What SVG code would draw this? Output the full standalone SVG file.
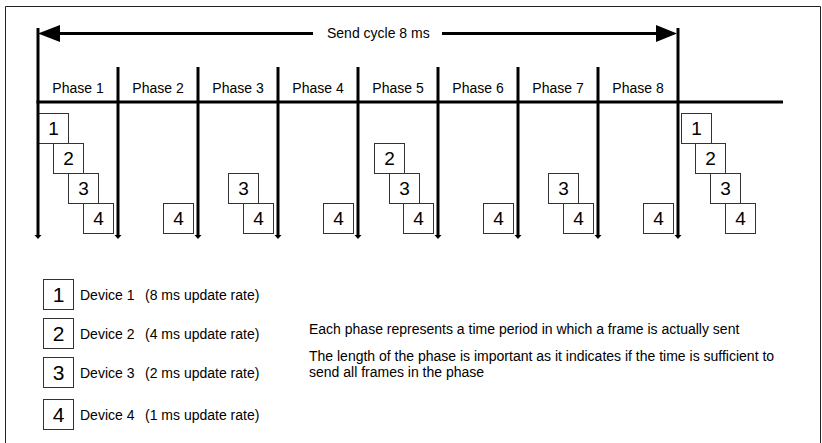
<svg xmlns="http://www.w3.org/2000/svg" width="822" height="443" viewBox="0 0 822 443">
<style>
text{font-family:"Liberation Sans",Arial,sans-serif;fill:#000}
.lbl{font-size:14px;text-anchor:middle}
.txt{font-size:14px}
.num{font-size:19px;text-anchor:middle}
.lnum{font-size:21px;text-anchor:middle}
.b{fill:#fff;stroke:#333;stroke-width:1}
.v{stroke:#000;stroke-width:3;fill:none;marker-end:url(#tip)}
.h{stroke:#000;stroke-width:3;fill:none}
</style>
<defs>
<marker id="tip" markerUnits="userSpaceOnUse" markerWidth="6" markerHeight="8" refX="1" refY="4" orient="auto">
<path d="M0,0.5 L4,4 L0,7.5 z" fill="#000"/>
</marker>
</defs>
<rect width="822" height="443" fill="#fff"/>
<path d="M5.5,443 V6.5 H820.5 V443" fill="none" stroke="#222" stroke-width="1"/>

<g id="nodes">
<g id="p1-d1"><rect class="b" x="38.5" y="113.5" width="30" height="30"/><text class="num" x="53.5" y="135">1</text></g>
<g id="p1-d2"><rect class="b" x="53.5" y="143.5" width="30" height="30"/><text class="num" x="68.5" y="165">2</text></g>
<g id="p1-d3"><rect class="b" x="68.5" y="173.5" width="30" height="30"/><text class="num" x="83.5" y="195">3</text></g>
<g id="p1-d4"><rect class="b" x="83.5" y="203.5" width="30" height="30"/><text class="num" x="98.5" y="225">4</text></g>
<g id="p2-d4"><rect class="b" x="163.5" y="203.5" width="30" height="30"/><text class="num" x="178.5" y="225">4</text></g>
<g id="p3-d3"><rect class="b" x="228.5" y="173.5" width="30" height="30"/><text class="num" x="243.5" y="195">3</text></g>
<g id="p3-d4"><rect class="b" x="243.5" y="203.5" width="30" height="30"/><text class="num" x="258.5" y="225">4</text></g>
<g id="p4-d4"><rect class="b" x="323.5" y="203.5" width="30" height="30"/><text class="num" x="338.5" y="225">4</text></g>
<g id="p5-d2"><rect class="b" x="374.5" y="143.5" width="30" height="30"/><text class="num" x="389.5" y="165">2</text></g>
<g id="p5-d3"><rect class="b" x="389.5" y="173.5" width="30" height="30"/><text class="num" x="404.5" y="195">3</text></g>
<g id="p5-d4"><rect class="b" x="403.5" y="203.5" width="30" height="30"/><text class="num" x="418.5" y="225">4</text></g>
<g id="p6-d4"><rect class="b" x="483.5" y="203.5" width="30" height="30"/><text class="num" x="498.5" y="225">4</text></g>
<g id="p7-d3"><rect class="b" x="548.5" y="173.5" width="30" height="30"/><text class="num" x="563.5" y="195">3</text></g>
<g id="p7-d4"><rect class="b" x="563.5" y="203.5" width="30" height="30"/><text class="num" x="578.5" y="225">4</text></g>
<g id="p8-d4"><rect class="b" x="643.5" y="203.5" width="30" height="30"/><text class="num" x="658.5" y="225">4</text></g>
<g id="n1-d1"><rect class="b" x="681.5" y="113.5" width="30" height="30"/><text class="num" x="696.5" y="135">1</text></g>
<g id="n1-d2"><rect class="b" x="695.5" y="143.5" width="30" height="30"/><text class="num" x="710.5" y="165">2</text></g>
<g id="n1-d3"><rect class="b" x="710.5" y="173.5" width="30" height="30"/><text class="num" x="725.5" y="195">3</text></g>
<g id="n1-d4"><rect class="b" x="725.5" y="203.5" width="30" height="30"/><text class="num" x="740.5" y="225">4</text></g>
</g>

<g id="connectors">
<line class="h" x1="36.5" y1="102" x2="783" y2="102"/>
<line class="v" x1="38" y1="28" x2="38" y2="236"/>
<line class="v" x1="118" y1="67" x2="118" y2="236"/>
<line class="v" x1="198" y1="67" x2="198" y2="236"/>
<line class="v" x1="278" y1="67" x2="278" y2="236"/>
<line class="v" x1="358" y1="67" x2="358" y2="236"/>
<line class="v" x1="438" y1="67" x2="438" y2="236"/>
<line class="v" x1="518" y1="67" x2="518" y2="236"/>
<line class="v" x1="598" y1="67" x2="598" y2="236"/>
<line class="v" x1="678" y1="28" x2="678" y2="236"/>
<line class="h" x1="50" y1="33.5" x2="313" y2="33.5"/>
<line class="h" x1="442" y1="33.5" x2="666" y2="33.5"/>
<polygon points="38,33.5 60,25 60,42" fill="#000"/>
<polygon points="677,33.5 656,25 656,42" fill="#000"/>
</g>

<g id="labels">
<text class="txt" x="327" y="38">Send cycle 8 ms</text>
<text class="lbl" x="78" y="93">Phase 1</text>
<text class="lbl" x="158" y="93">Phase 2</text>
<text class="lbl" x="238" y="93">Phase 3</text>
<text class="lbl" x="318" y="93">Phase 4</text>
<text class="lbl" x="398" y="93">Phase 5</text>
<text class="lbl" x="478" y="93">Phase 6</text>
<text class="lbl" x="558" y="93">Phase 7</text>
<text class="lbl" x="638" y="93">Phase 8</text>
</g>

<g id="legend">
<g id="leg1"><rect class="b" x="43.5" y="279.5" width="30" height="30"/><text class="lnum" x="58.5" y="302">1</text><text class="txt" x="80" y="300">Device 1<tspan x="145">(8 ms update rate)</tspan></text></g>
<g id="leg2"><rect class="b" x="43.5" y="318.5" width="30" height="30"/><text class="lnum" x="58.5" y="341">2</text><text class="txt" x="80" y="339">Device 2<tspan x="145">(4 ms update rate)</tspan></text></g>
<g id="leg3"><rect class="b" x="43.5" y="357.5" width="30" height="30"/><text class="lnum" x="58.5" y="380">3</text><text class="txt" x="80" y="378">Device 3<tspan x="145">(2 ms update rate)</tspan></text></g>
<g id="leg4"><rect class="b" x="43.5" y="399.5" width="30" height="30"/><text class="lnum" x="58.5" y="422">4</text><text class="txt" x="80" y="420">Device 4<tspan x="145">(1 ms update rate)</tspan></text></g>
</g>

<g id="notes">
<text class="txt" x="309" y="334">Each phase represents a time period in which a frame is actually sent</text>
<text class="txt" x="309" y="361">The length of the phase is important as it indicates if the time is sufficient to</text>
<text class="txt" x="309" y="377">send all frames in the phase</text>
</g>
</svg>
